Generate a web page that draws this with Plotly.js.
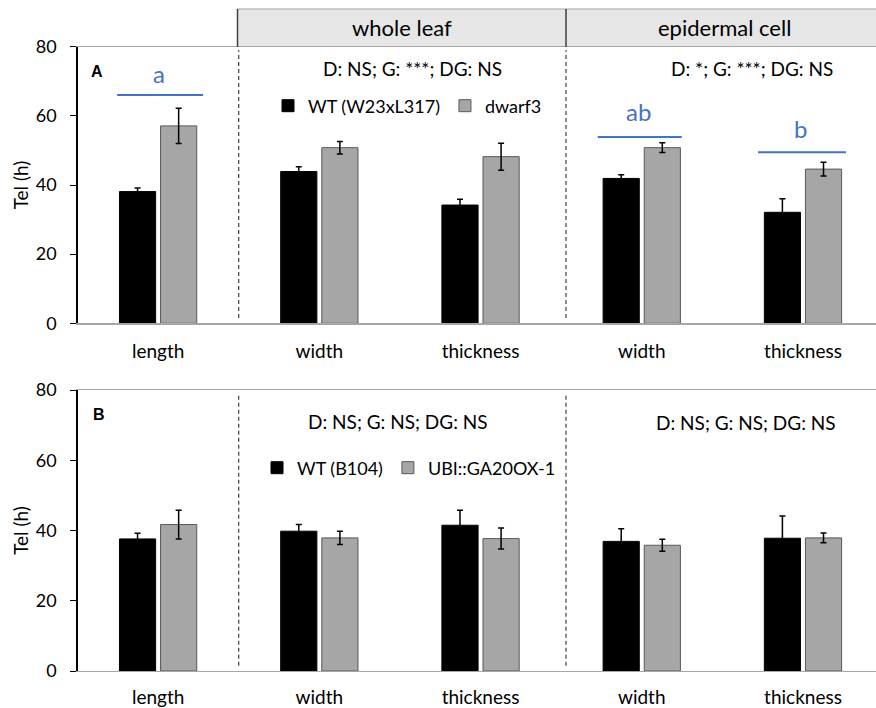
<!DOCTYPE html>
<html>
<head>
<meta charset="utf-8">
<script src="https://cdn.plot.ly/plotly-3.0.1.min.js"></script>
<style>html,body{margin:0;padding:0;background:#fff;}#chart{width:876px;height:708px;}</style>
</head>
<body>
<div id="chart"></div>
<script>
// ---- data ----
var categories = ['length', 'width', 'thickness', 'width', 'thickness'];
var groups = ['whole leaf', 'epidermal cell'];
var seriesA = ['WT (W23xL317)', 'dwarf3'];
var seriesB = ['WT (B104)', 'UBI::GA20OX-1'];

var wtA      = [38.1, 43.9, 34.2, 41.9, 32.1];
var wtA_err  = [1.0, 1.4, 1.7, 1.1, 3.9];
var dwA      = [57.1, 50.8, 48.2, 50.8, 44.6];
var dwA_err  = [5.1, 1.8, 3.9, 1.4, 2.0];

var wtB      = [37.6, 39.8, 41.5, 36.9, 37.8];
var wtB_err  = [1.6, 1.9, 4.3, 3.6, 6.3];
var ubB      = [41.7, 37.9, 37.7, 35.8, 37.9];
var ubB_err  = [4.1, 1.9, 3.0, 1.7, 1.4];

var statsA = ['D: NS; G: ***; DG: NS', 'D: *; G: ***; DG: NS'];
var statsB = ['D: NS; G: NS; DG: NS', 'D: NS; G: NS; DG: NS'];
var letters = ['a', 'ab', 'b'];
var yTicks = [0, 20, 40, 60, 80];

// ---- helpers ----
var xIdx = categories.map(function(_, i){ return i; });
var FONT = 'Lato, "Open Sans", sans-serif';
var W = 876, H = 708;
function px(x){ return x / W; }
function py(y){ return 1 - y / H; }

function barTrace(name, y, err, fill, line, xa, ya, leg){
  return {
    type: 'bar', name: name, x: xIdx, y: y,
    xaxis: xa, yaxis: ya, legend: leg,
    marker: {color: fill, line: {color: line, width: 1}},
    error_y: {type: 'data', array: err, visible: true, color: '#000', thickness: 1.5, width: 3},
    hoverinfo: 'y'
  };
}

var data = [
  barTrace(seriesA[0], wtA, wtA_err, '#000000', '#000000', 'x', 'y', 'legend'),
  barTrace(seriesA[1], dwA, dwA_err, '#a6a6a6', '#595959', 'x', 'y', 'legend'),
  barTrace(seriesB[0], wtB, wtB_err, '#000000', '#000000', 'x2', 'y2', 'legend2'),
  barTrace(seriesB[1], ubB, ubB_err, '#a6a6a6', '#595959', 'x2', 'y2', 'legend2')
];

function xAxis(dom, anchor, standoff){
  return {
    domain: dom, anchor: anchor, range: [-0.5, 4.453],
    tickvals: xIdx, ticktext: categories, ticks: '',
    showline: true, linecolor: '#a6a6a6', linewidth: 1.2, mirror: true,
    showgrid: false, zeroline: false, fixedrange: true,
    tickfont: {family: FONT, size: 19, color: '#000'}, ticklabelstandoff: standoff
  };
}
function yAxis(dom, anchor){
  return {
    domain: dom, anchor: anchor, range: [0, 80], tickvals: yTicks,
    ticks: 'outside', ticklen: 6, tickcolor: '#000', tickwidth: 1,
    showline: true, linecolor: '#000', linewidth: 1.2,
    showgrid: false, zeroline: false, fixedrange: true,
    tickfont: {family: FONT, size: 18, color: '#000'}, ticklabelstandoff: 10,
    title: {text: 'Tel (h)', font: {family: FONT, size: 19, color: '#000'}, standoff: 2}
  };
}

var shapes = [];
// header boxes
shapes.push({type: 'rect', xref: 'paper', yref: 'paper', x0: px(237), x1: px(566), y0: py(47), y1: py(9), fillcolor: '#e6e6e6', line: {width: 0}, layer: 'below'});
shapes.push({type: 'rect', xref: 'paper', yref: 'paper', x0: px(566), x1: 1, y0: py(47), y1: py(9), fillcolor: '#e6e6e6', line: {width: 0}, layer: 'below'});
shapes.push({type: 'line', xref: 'paper', yref: 'paper', x0: px(237), x1: 1, y0: py(9), y1: py(9), line: {color: '#a6a6a6', width: 1.2}});
shapes.push({type: 'line', xref: 'paper', yref: 'paper', x0: px(237.5), x1: px(237.5), y0: py(9), y1: py(47), line: {color: '#404040', width: 1.5}});
shapes.push({type: 'line', xref: 'paper', yref: 'paper', x0: px(566), x1: px(566), y0: py(9), y1: py(47), line: {color: '#404040', width: 1.5}});
// dashed separators
[['x', 'y'], ['x2', 'y2']].forEach(function(ax){
  [0.5, 2.53].forEach(function(xv){
    shapes.push({type: 'line', xref: ax[0], yref: ax[1], x0: xv, x1: xv, y0: 1.5, y1: 79, line: {color: '#404040', width: 1.2, dash: '4px,3px'}});
  });
});
// significance lines (panel A)
var sigLines = [[-0.254, 0.279, 66.0], [2.727, 3.248, 53.9], [3.721, 4.267, 49.5]];
sigLines.forEach(function(s){
  shapes.push({type: 'line', xref: 'x', yref: 'y', x0: s[0], x1: s[1], y0: s[2], y1: s[2], line: {color: '#4472c4', width: 2}});
});

var annotations = [];
function ann(text, x, y, size, color, bold, fam){
  annotations.push({text: bold ? '<b>' + text + '</b>' : text, xref: 'paper', yref: 'paper', x: px(x), y: py(y),
    xanchor: 'center', yanchor: 'middle', showarrow: false,
    font: {family: fam || FONT, size: size, color: color || '#000'}});
}
ann(groups[0], 402, 28, 22);
ann(groups[1], 724, 28, 22);
ann('A', 97, 71, 16, '#000', true, '"Liberation Sans", Arial, sans-serif');
ann('B', 99, 415, 16, '#000', true, '"Liberation Sans", Arial, sans-serif');
ann(statsA[0], 412, 69, 19);
ann(statsA[1], 752, 69, 19);
ann(statsB[0], 398, 421, 19);
ann(statsB[1], 746, 422, 19);
ann(letters[0], 159, 73, 24, '#4472c4');
ann(letters[1], 638, 112, 24, '#4472c4');
ann(letters[2], 800, 129, 24, '#4472c4');

var layout = {
  width: W, height: H,
  margin: {l: 0, r: 0, t: 0, b: 0},
  paper_bgcolor: '#fff', plot_bgcolor: 'rgba(0,0,0,0)',
  barmode: 'group', bargap: 0.49, bargroupgap: 0.12,
  font: {family: FONT, size: 18, color: '#000'},
  xaxis: xAxis([px(77.5), 1], 'y', 11),
  yaxis: yAxis([py(323.3), py(46.7)], 'x'),
  xaxis2: xAxis([px(77.5), 1], 'y2', 9),
  yaxis2: yAxis([py(671), py(390)], 'x2'),
  legend: {orientation: 'h', x: px(268), y: py(106), xanchor: 'left', yanchor: 'middle',
    bgcolor: 'rgba(0,0,0,0)', font: {family: FONT, size: 18, color: '#000'}, traceorder: 'normal'},
  legend2: {orientation: 'h', x: px(257), y: py(468), xanchor: 'left', yanchor: 'middle',
    bgcolor: 'rgba(0,0,0,0)', font: {family: FONT, size: 18, color: '#000'}, traceorder: 'normal'},
  shapes: shapes,
  annotations: annotations,
  showlegend: true
};

Plotly.newPlot('chart', data, layout, {displayModeBar: false, staticPlot: true});
</script>
</body>
</html>
